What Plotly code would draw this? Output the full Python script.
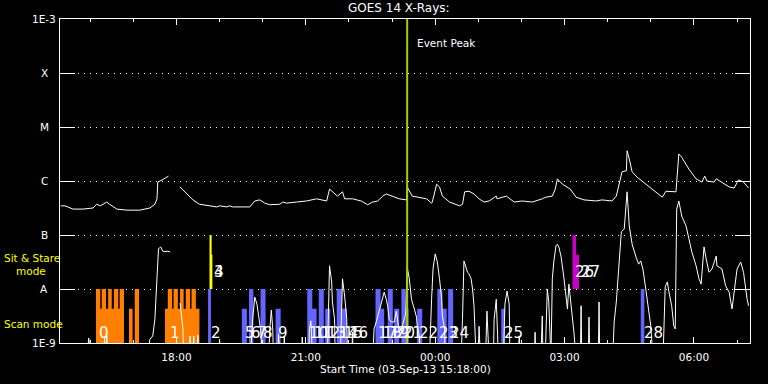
import plotly.graph_objects as go
import pandas as pd

START = pd.Timestamp("2013-09-03 15:18:00")
END = START + pd.Timedelta(hours=16)
EVENT_PEAK_MIN = 483          # minutes after start
F = -9.3                      # below the 1E-9 floor (clipped)

# GOES long channel: minutes after start, log10 flux (W/m^2)
long_min = [1, 7, 18, 32, 46, 51, 56, 65, 69, 79, 93, 111, 125, 132, 135, 136, 142, 151, None,
            167, 176, 185, 194, 208, 218, 222, 232, 236, 240, 264, 271, 278, 285, 292, 306, 310, 315,
            329, 343, 357, 371, 375, 379, 386, 393, 396, 407, 419, 428, 435, 442, 449, 454, 463, 472,
            482, 483, 490, 500, 510, 517, 518, 524, 528, 532, 542, 556, 560, 563, 569, 576, 583, 590,
            597, 607, 608, 621, 632, 643, 657, 671, 676, 685, 689, 692, 699, 710, 718, 729, 746, 754,
            768, 774, 778, 782, 788, 789, 792, 796, 803, 815, 829, 838, 843, 857, 861, 865, 875, 885,
            893, 897, 900, 910, 913, 921, 931, 938, 944, 951, 958]
long_log = [-6.46, -6.46, -6.52, -6.52, -6.50, -6.43, -6.46, -6.39, -6.43, -6.52, -6.54, -6.54, -6.50,
            -6.43, -6.33, -6.02, -5.98, -5.91, None,
            -6.11, -6.24, -6.35, -6.43, -6.46, -6.48, -6.46, -6.48, -6.46, -6.48, -6.48, -6.37, -6.35,
            -6.41, -6.44, -6.43, -6.39, -6.41, -6.39, -6.37, -6.33, -6.37, -6.15, -6.20, -6.28, -6.20,
            -6.33, -6.33, -6.37, -6.44, -6.39, -6.37, -6.28, -6.24, -6.28, -6.33, -6.35, -6.11, -6.28,
            -6.30, -6.33, -6.41, -6.39, -6.06, -6.11, -6.28, -6.39, -6.46, -6.43, -6.20, -6.19, -6.24,
            -6.33, -6.39, -6.37, -6.28, -6.33, -6.28, -6.39, -6.37, -6.39, -6.33, -6.30, -6.28, -6.15,
            -5.96, -6.06, -6.15, -6.30, -6.35, -6.37, -6.35, -6.37, -6.28, -6.02, -5.83, -5.81, -5.44,
            -5.59, -5.83, -5.93, -6.06, -6.20, -6.30, -6.19, -6.20, -5.50, -5.56, -5.78, -5.96, -6.02,
            -5.91, -6.00, -6.02, -5.96, -6.02, -6.11, -6.13, -5.98, -6.02, -6.13]

# GOES short channel: minutes after start, log10 flux (F = below floor)
short_min = [1, 37, 40, 43, 61, 62, 64, 65, 67, 122, 125, 129, 132, 135, 136, 137, 140, 143, 146, 149,
             153, None,
             167, 169, 171, 172, 179, 181, 182, 185, 186, 187, 190, 192, 193, 221, 222, 224, 265, 268,
             271, 274, 276, 279, 282, 290, 292, 294, 296, 297, 303, 304, 306, 311, 312, 314, 336, 337,
             339, 346, 347, 349, 350, 351, 372, 375, 378, 379, 382, 383, 390, 393, 396, 399, 400, 406,
             407, 408, 435, 437, 440, 444, 447, 451, 454, 456, 458, 461, 465, 468, 472, 476, 481, 483,
             486, 489, 493, 496, 497, 500, 501, 514, 517, 519, 522, 525, 528, 531, 532, 535, 536, 558,
             560, 561, 562, 567, 569, 572, 574, 576, 579, 582, 583, 585, 592, 594, 597, 603, 604, 607,
             610, 617, 619, 622, 625, 626, 637, 639, 640, 660, 661, 662, 669, 671, 672, 675, 678, 680,
             682, 683, 685, 687, 690, 692, 694, 697, 701, 704, 706, 708, 713, 715, 718, 724, 725, 726,
             735, 736, 737, 749, 750, 751, 769, 771, 774, 778, 781, 785, 789, 792, 796, 801, 805, 808,
             811, 815, 819, 822, 825, 839, 842, 845, 847, 851, 854, 856, 858, 861, 865, 871, 875, 879,
             885, 889, 892, 896, 899, 903, 907, 913, 914, 921, 926, 931, 935, 938, 942, 947, 951, 956, 958]
short_log = [F, F, -8.91, F, F, -8.89, F, -8.85, F, F, -8.93, -8.87, -8.56, -7.69, -7.44, -7.26, -7.22,
             -7.30, -7.31, -7.30, -7.31, None,
             -8.26, -8.50, -8.74, F, F, -8.87, F, F, -8.87, F, F, -8.85, F, F, -8.93, F, F, -8.56,
             -8.15, -8.28, -8.46, -8.74, F, F, -8.74, -8.39, -8.74, F, F, -8.83, F, F, -8.89, F, F, -8.89,
             F, F, -8.74, -8.59, -8.83, F, F, -7.57, -7.87, -8.24, -8.56, F, F, -7.81, -8.13, -8.56, F, F,
             -8.80, F, F, -8.74, -8.61, -8.41, -8.31, -8.06, -8.19, -8.33, -8.56, -8.61, -8.61, -8.41,
             -8.80, -8.69, -8.46, -7.59, -7.81, -8.19, -8.37, -8.52, -8.69, -8.87, F, F, -8.19, -7.63,
             -7.35, -7.50, -7.81, -8.19, -8.50, -8.74, F, F, -8.56, -8.09, -7.48, -7.69, -7.72, -7.81,
             -8.00, -8.31, F, F, -8.69, F, F, -8.41, F, F, -8.56, -8.19, F, F, -8.28, -8.04, -8.28, F, F,
             -8.87, F, F, -8.80, F, F, -8.50, F, F, -8.00, -8.24, F, F, -7.81, -7.50, -7.20, -7.17, -7.22,
             -7.39, -7.78, -8.09, -8.37, -7.91, -8.50, -8.80, F, F, -8.31, F, F, -8.52, F, F, -8.24, F,
             F, -8.61, -8.24, -7.39, -6.94, -6.89, -6.20, -6.83, -7.17, -7.39, -7.54, -7.48, -7.63,
             -8.00, -8.37, -8.69, F, F, -7.96, -7.87, -8.04, -8.31, -8.69, -8.74, -6.52, -6.37, -6.65,
             -6.83, -7.07, -7.31, -7.57, -7.81, -7.91, -7.22, -7.44, -7.69, -7.63, -7.39, -7.57, -7.63,
             -7.94, -8.06, -8.37, -8.06, -7.63, -7.50, -7.69, -8.19, -8.31]

# Observation bars (minutes after start); levels in W/m^2
SCAN_BASE, SCAN_HI, SCAN_LO = 1e-9, 1e-8, 4.3e-9
SS_BASE, SS_HI, SS_LO = 1e-8, 1e-7, 4.3e-8

orange_start = [50, 50, 58, 67, 75, 83, 96, 104, 146, 150, 158, 167, 175, 183]
orange_end = [89, 56, 64, 72, 81, 89, 101, 110, 194, 156, 164, 172, 181, 189]
orange_top = ["lo", "hi", "hi", "hi", "hi", "hi", "lo", "hi", "lo", "hi", "hi", "hi", "hi", "hi"]

blue_start = [206, 253, 263, 279, 300, 344, 351, 360, 369, 385, 392, 439, 446, 456, 465, 475, 481,
              497, 525, 532, 540, 614, 808]
blue_end = [210, 260, 269, 286, 307, 351, 357, 367, 376, 392, 399, 446, 451, 463, 472, 481, 485,
            504, 532, 538, 547, 619, 813]
blue_top = ["hi", "lo", "hi", "hi", "lo", "hi", "lo", "hi", "lo", "hi", "lo", "hi", "lo", "hi", "lo",
            "hi", "lo", "lo", "hi", "lo", "hi", "lo", "hi"]

yellow_start = [208, 208]
yellow_end = [211, 212]
yellow_top = ["hi", "lo"]

magenta_start = [713, 713]
magenta_end = [718, 722]
magenta_top = ["hi", "lo"]

# Observation number labels
obs_label_min = [51, 150, 207, 211, 211, 254, 263, 271, 279, 301, 344, 351, 360, 369, 385, 392, 399,
                 439, 446, 456, 465, 475, 497, 525, 540, 615, 714, 722, 810]
obs_label_band = ["scan"] * 29
for i in (3, 4, 26, 27):
    obs_label_band[i] = "ss"

y_tick_vals = [-9, -8, -7, -6, -5, -4, -3]
y_tick_text = ["1E-9", "A", "B", "C", "M", "X", "1E-3"]
x_tick_vals = ["2013-09-03 18:00", "2013-09-03 21:00", "2013-09-04 00:00",
               "2013-09-04 03:00", "2013-09-04 06:00"]
x_tick_text = ["18:00", "21:00", "00:00", "03:00", "06:00"]

FONT = "DejaVu Sans"


def t(m):
    return None if m is None else START + pd.Timedelta(minutes=m)


def p(v):
    return None if v is None else 10 ** v


def rects(starts, ends, tops, base, hi, lo):
    xs, ys = [], []
    for s, e, tp in zip(starts, ends, tops):
        top = hi if tp == "hi" else lo
        xs += [t(s), t(s), t(e), t(e), t(s), None]
        ys += [base, top, top, base, base, None]
    return xs, ys


fig = go.Figure()
for st, en, tp, col, band in [
    (orange_start, orange_end, orange_top, "#ff8000", "scan"),
    (blue_start, blue_end, blue_top, "#6464ff", "scan"),
    (yellow_start, yellow_end, yellow_top, "#ffff00", "ss"),
    (magenta_start, magenta_end, magenta_top, "#c800c8", "ss"),
]:
    if band == "scan":
        xs, ys = rects(st, en, tp, SCAN_BASE, SCAN_HI, SCAN_LO)
    else:
        xs, ys = rects(st, en, tp, SS_BASE, SS_HI, SS_LO)
    fig.add_trace(go.Scatter(x=xs, y=ys, mode="lines", fill="toself", fillcolor=col,
                             line=dict(width=0, color=col), hoverinfo="skip"))

fig.add_trace(go.Scatter(x=[t(m) for m in long_min], y=[p(v) for v in long_log], mode="lines",
                         line=dict(color="white", width=1), connectgaps=False))
fig.add_trace(go.Scatter(x=[t(m) for m in short_min], y=[p(v) for v in short_log], mode="lines",
                         line=dict(color="white", width=1), connectgaps=False))
fig.add_trace(go.Scatter(x=[t(EVENT_PEAK_MIN), t(EVENT_PEAK_MIN)], y=[1e-9, 1e-3], mode="lines",
                         line=dict(color="#a0d000", width=2)))

ann = []
for i, (m, b) in enumerate(zip(obs_label_min, obs_label_band)):
    ann.append(dict(x=t(m), y=-8.815 if b == "scan" else -7.685, xref="x", yref="y", text=str(i),
                    showarrow=False, xanchor="left", yanchor="middle",
                    font=dict(family=FONT, size=15, color="white")))
for v, s in zip(y_tick_vals, y_tick_text):
    ann.append(dict(x=-0.0225, y=v, xref="paper", yref="y", text=s, showarrow=False,
                    xanchor="center", yanchor="middle", font=dict(family=FONT, size=10.5, color="white")))
ann += [
    dict(x=t(494), y=-3.444, xref="x", yref="y", text="Event Peak", showarrow=False,
         xanchor="left", yanchor="middle", font=dict(family=FONT, size=10.5, color="white")),
    dict(x=0.4906, y=1.034, xref="paper", yref="paper", text="GOES 14 X-Rays:", showarrow=False,
         xanchor="center", yanchor="middle", font=dict(family=FONT, size=12, color="white")),
    dict(x=0.5, y=-0.080, xref="paper", yref="paper", text="Start Time (03-Sep-13 15:18:00)",
         showarrow=False, xanchor="center", yanchor="middle",
         font=dict(family=FONT, size=10.5, color="white")),
    dict(x=-0.0841, y=0.2623, xref="paper", yref="paper", text="Sit & Stare", showarrow=False,
         xanchor="left", yanchor="middle", font=dict(family=FONT, size=10.5, color="#ffff00")),
    dict(x=-0.0667, y=0.2222, xref="paper", yref="paper", text="mode", showarrow=False,
         xanchor="left", yanchor="middle", font=dict(family=FONT, size=10.5, color="#ffff00")),
    dict(x=-0.0841, y=0.0586, xref="paper", yref="paper", text="Scan mode", showarrow=False,
         xanchor="left", yanchor="middle", font=dict(family=FONT, size=10.5, color="#ffff00")),
]

fig.update_layout(
    width=768, height=384, margin=dict(l=60, r=18, t=19, b=41),
    paper_bgcolor="black", plot_bgcolor="black", showlegend=False,
    font=dict(family=FONT, color="white", size=10.5),
    annotations=ann,
    xaxis=dict(type="date", range=[START, END], showline=True, linecolor="white", linewidth=1,
               mirror="allticks", ticks="inside", ticklen=6, tickcolor="white", tickwidth=1,
               tickvals=x_tick_vals, ticktext=x_tick_text, showgrid=False, zeroline=False,
               tickfont=dict(family=FONT, size=10.5, color="white"), ticklabelstandoff=4,
               minor=dict(ticks="inside", ticklen=3, tickcolor="white", dtick=3600000,
                          tick0="2013-09-03 00:00", showgrid=False)),
    yaxis=dict(type="log", range=[-9, -3], showline=True, linecolor="white", linewidth=1,
               mirror="allticks", ticks="inside", ticklen=15, tickcolor="white", tickwidth=1,
               tickvals=[10 ** v for v in y_tick_vals], showticklabels=False,
               showgrid=True, gridcolor="white", gridwidth=1, griddash="1px,5px", zeroline=False),
)

fig.write_html("out.html", config={"displayModeBar": False},
               post_script="document.body.style.margin='0';document.body.style.background='black';")
